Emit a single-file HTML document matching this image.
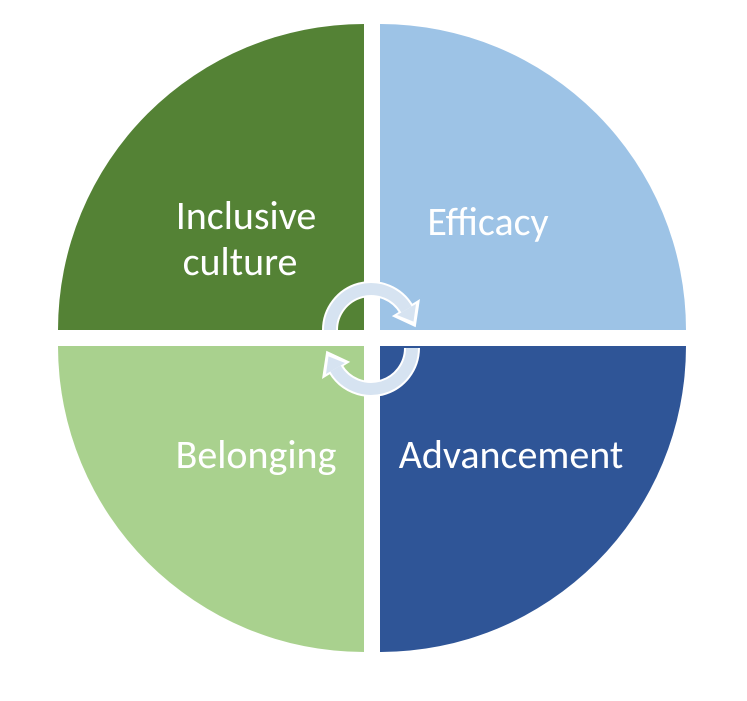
<!DOCTYPE html>
<html><head><style>body{margin:0;background:#fff}</style></head><body>
<svg width="747" height="696" xmlns="http://www.w3.org/2000/svg">
<rect width="747" height="696" fill="#fff"/>
<path d="M364,330 L58,330 A306,306 0 0 1 364,24 Z" fill="#548235"/>
<path d="M380,330 L380,24 A306,306 0 0 1 686,330 Z" fill="#9dc3e6"/>
<path d="M364,346 L364,652 A306,306 0 0 1 58,346 Z" fill="#a9d18e"/>
<path d="M380,346 L686,346 A306,306 0 0 1 380,652 Z" fill="#2f5597"/>
<g font-family="Carlito, 'Liberation Sans', sans-serif" font-size="40" fill="#fff" text-anchor="middle">
<text x="246" y="229">Inclusive</text>
<text x="240" y="275">culture</text>
<text x="488" y="235">Efficacy</text>
<text x="256" y="468">Belonging</text>
<text x="511" y="468">Advancement</text>
</g>
<g stroke-linejoin="miter">
<path d="M330,330 A41,41 0 0 1 406.5,309.5" fill="none" stroke="#fff" stroke-width="16"/>
<polygon points="418,302 395,316 414.5,325" fill="#fff" stroke="#fff" stroke-width="3"/>
<path d="M330,330 A41,41 0 0 1 406.5,309.5" fill="none" stroke="#d6e3f1" stroke-width="12"/>
<polygon points="416,304 397,315 413.5,321.6" fill="#d6e3f1"/>
<path d="M412,348 A41,41 0 0 1 335.5,368.5" fill="none" stroke="#fff" stroke-width="16"/>
<polygon points="324,376 347,362 327.5,353" fill="#fff" stroke="#fff" stroke-width="3"/>
<path d="M412,348 A41,41 0 0 1 335.5,368.5" fill="none" stroke="#d6e3f1" stroke-width="12"/>
<polygon points="326,374 345,363 328.5,356.4" fill="#d6e3f1"/>
</g>
</svg>
</body></html>
